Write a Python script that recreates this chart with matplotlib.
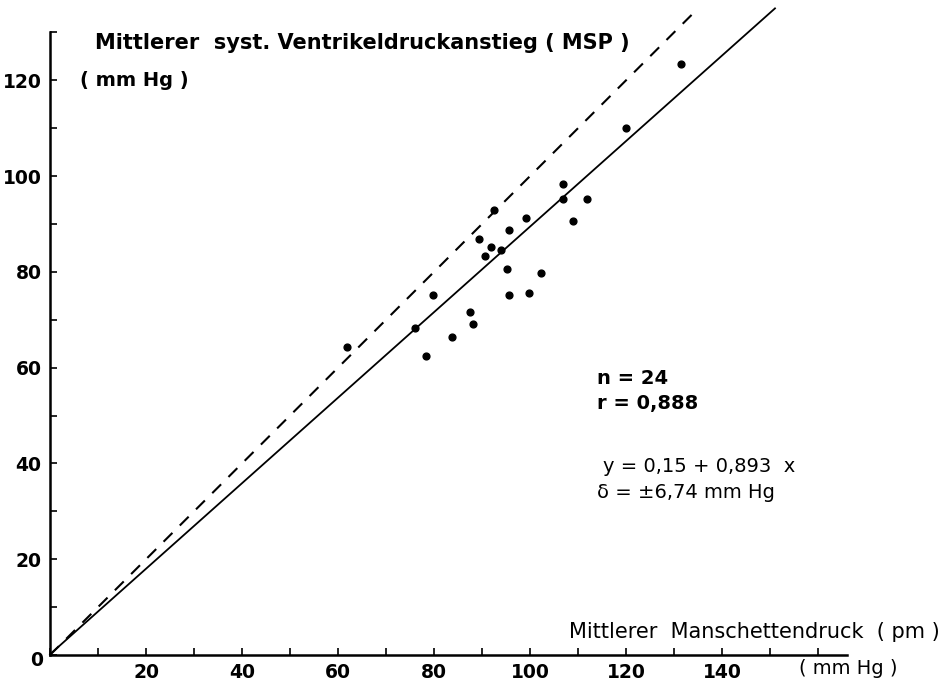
import matplotlib
matplotlib.use("Agg")
import matplotlib.pyplot as plt
import numpy as np
from matplotlib.ticker import MultipleLocator

# Data
cuff_pressure = [106.8, 106.8, 111.8, 108.9, 92.4, 99.2, 95.6, 89.4, 91.8, 93.9, 90.6, 95.1,
                 102.2, 95.6, 99.7, 79.7, 87.4, 88.1, 76.0, 83.8, 78.3, 61.8, 131.4, 119.9]
msp = [98.3, 95.1, 95.2, 90.7, 92.9, 91.3, 88.7, 86.8, 85.2, 84.6, 83.2, 80.6,
       79.8, 75.1, 75.5, 75.2, 71.7, 69.0, 68.3, 66.3, 62.5, 64.4, 123.3, 110.0]
reg_intercept = 0.15
reg_slope = 0.893
reg_x = [0, 151]
ident_x = [0, 134]
x_ticks = [20, 40, 60, 80, 100, 120, 140]
y_ticks = [20, 40, 60, 80, 100, 120]
stats_lines = ["n = 24", "r = 0,888"]
eq_lines = ["y = 0,15 + 0,893  x", "δ = ±6,74 mm Hg"]

plt.rcParams['font.family'] = ['DejaVu Sans']
fig = plt.figure(figsize=(9.47, 6.88), dpi=100)
px_per_unit = 4.79
ymax = 136
ax = fig.add_axes([50/947, 33/688, 797/947, ymax*px_per_unit/688])
ax.set_xlim(0, 166)
ax.set_ylim(0, ymax)

for s in ['top', 'right']:
    ax.spines[s].set_visible(False)
for s in ['left', 'bottom']:
    ax.spines[s].set_linewidth(1.8)
ax.spines['left'].set_bounds(0, 130)

ax.set_xticks(x_ticks)
ax.set_yticks(y_ticks)
ax.xaxis.set_minor_locator(MultipleLocator(10))
ax.yaxis.set_minor_locator(MultipleLocator(10))
ax.tick_params(which='both', direction='in', length=5, width=1.2)
ax.tick_params(axis='both', labelsize=13.5, pad=6)
for lab in ax.get_xticklabels() + ax.get_yticklabels():
    lab.set_fontweight('bold')

# origin label
fig.text(37/947, 1 - 661/688, "0", fontsize=13.5, fontweight='bold', ha='center', va='center')

# lines
rx = np.array(reg_x, dtype=float)
ax.plot(rx, reg_intercept + reg_slope * rx, color='black', lw=1.3, clip_on=False)
ix = np.array(ident_x, dtype=float)
ax.plot(ix, ix, color='black', lw=1.5, linestyle=(0, (6, 5)), clip_on=False)

ax.scatter(cuff_pressure, msp, s=24, color='black', zorder=3)

# axis labels as placed in the figure
fig.text(95/947, 1 - 43/688, "Mittlerer  syst. Ventrikeldruckanstieg ( MSP )", fontsize=15,
         fontweight='bold', ha='left', va='center')
fig.text(80/947, 1 - 80/688, "( mm Hg )", fontsize=14, fontweight='bold', ha='left', va='center')
fig.text(940/947, 1 - 632/688, "Mittlerer  Manschettendruck  ( pm )", fontsize=15,
         ha='right', va='center')
fig.text(897/947, 1 - 668/688, "( mm Hg )", fontsize=14, ha='right', va='center')

# annotations
fig.text(597/947, 1 - 378/688, stats_lines[0], fontsize=14, fontweight='bold', ha='left', va='center')
fig.text(597/947, 1 - 403/688, stats_lines[1], fontsize=14, fontweight='bold', ha='left', va='center')
fig.text(603/947, 1 - 467/688, eq_lines[0], fontsize=14, ha='left', va='center')
fig.text(597/947, 1 - 493/688, eq_lines[1], fontsize=14, ha='left', va='center')

fig.savefig("out.png", dpi=100)
